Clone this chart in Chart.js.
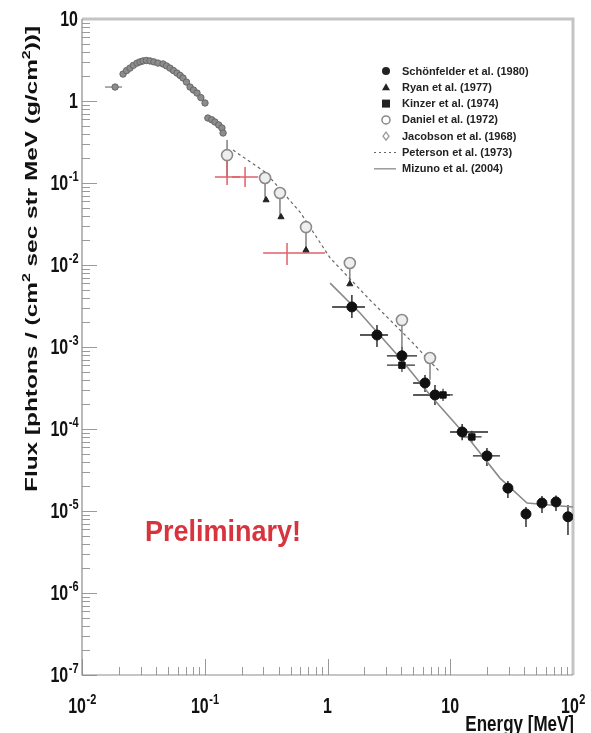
<!DOCTYPE html>
<html>
<head>
<meta charset="utf-8">
<script src="https://cdn.jsdelivr.net/npm/chart.js@4.4.0/dist/chart.umd.min.js"></script>
<style>
  html, body { margin: 0; padding: 0; background: #fff; }
  canvas { display: block; }
</style>
</head>
<body>
<canvas id="fluxChart" width="591" height="733"></canvas>
<script>
// energy in MeV, flux in photons / (cm2 sec str MeV (g/cm2))

// low energy curve
const jacobsonEnergy = [0.0186, 0.0216, 0.0231, 0.0246, 0.0262, 0.0281, 0.0297, 0.0314, 0.0335, 0.0358, 0.0385,
  0.0416, 0.0457, 0.0488, 0.0521, 0.0556, 0.0594, 0.0630, 0.0665, 0.0710, 0.0759, 0.0810, 0.0865, 0.0930,
  0.1005, 0.106, 0.114, 0.121, 0.130, 0.138, 0.141];
const jacobsonFlux = [1.48, 2.13, 2.35, 2.52, 2.72, 2.90, 3.00, 3.08, 3.12, 3.08, 3.00,
  2.90, 2.83, 2.68, 2.52, 2.35, 2.19, 2.05, 1.91, 1.70, 1.48, 1.36, 1.25, 1.10,
  0.946, 0.62, 0.59, 0.555, 0.51, 0.469, 0.407];
const jacobsonELow = [0.0154];
const jacobsonEHigh = [0.0212];

const danielEnergy = [0.152, 0.310, 0.410, 0.668, 1.52, 4.04, 6.84];
const danielFlux = [0.219, 0.115, 0.0755, 0.0290, 0.01057, 0.00213, 0.000735];
const danielFLow = [0.118, 0.062, 0.0385, 0.0152, 0.00586, 0.00092, 0.00040];
const danielFHigh = [0.334, 0.135, 0.089, 0.034, 0.0124, 0.0025, 0.00086];

const ryanEnergy = [0.316, 0.418, 0.668, 1.52];
const ryanFlux = [0.062, 0.0385, 0.0152, 0.00586];

const schonEnergy = [1.58, 2.53, 4.04, 6.23, 7.51, 12.5, 19.9, 29.5, 41.4, 55.9, 72.7, 91.0];
const schonFlux = [3.08e-3, 1.40e-3, 7.8e-4, 3.64e-4, 2.6e-4, 9.2e-5, 4.7e-5, 1.9e-5, 9.2e-6, 1.25e-5, 1.29e-5, 8.5e-6];
const schonELow = [1.09, 1.84, 3.05, 4.98, 4.98, 9.96, 15.3, 29.5, 41.4, 55.9, 72.7, 91.0];
const schonEHigh = [2.02, 3.11, 5.36, 6.84, 9.96, 20.3, 25.4, 29.5, 41.4, 55.9, 72.7, 91.0];
const schonFLow = [2.26e-3, 1.0e-3, 5.9e-4, 2.82e-4, 1.96e-4, 7.3e-5, 3.54e-5, 1.44e-5, 6.38e-6, 9.46e-6, 1.0e-5, 5.1e-6];
const schonFHigh = [4.3e-3, 1.85e-3, 1.01e-3, 4.56e-4, 3.44e-4, 1.15e-4, 5.86e-5, 2.32e-5, 1.12e-5, 1.52e-5, 1.55e-5, 1.18e-5];

const kinzerEnergy = [4.04, 8.73, 15.0];
const kinzerFlux = [6.0e-4, 2.6e-4, 8.0e-5];
const kinzerELow = [3.05, 7.0, 12.6];
const kinzerEHigh = [5.16, 10.5, 18.0];
const kinzerFLow = [4.95e-4, 2.2e-4, 6.8e-5];
const kinzerFHigh = [6.9e-4, 3.1e-4, 9.5e-5];

const prelimEnergy = [0.152, 0.213, 0.468];
const prelimFlux = [0.118, 0.118, 0.0140];
const prelimELow = [0.121, 0.167, 0.299];
const prelimEHigh = [0.194, 0.272, 0.955];
const prelimFLow = [0.0946, 0.0893, 0.0100];
const prelimFHigh = [0.252, 0.157, 0.0185];

const petersonEnergy = [0.170, 0.310, 0.597, 1.05, 2.22, 4.70, 8.25];
const petersonFlux = [0.252, 0.136, 0.0443, 0.0122, 0.00374, 0.00122, 0.000495];

const mizunoEnergy = [1.05, 1.84, 3.90, 6.84, 14.5, 25.4, 42.2, 100];
const mizunoFlux = [0.0060, 0.0026, 7.35e-4, 2.6e-4, 7.3e-5, 2.52e-5, 1.25e-5, 1.12e-5];

const legendLabels = ['Schönfelder et al. (1980)', 'Ryan et al. (1977)', 'Kinzer et al. (1974)',
  'Daniel et al. (1972)', 'Jacobson et al. (1968)', 'Peterson et al. (1973)', 'Mizuno et al. (2004)'];

const xTickValues = [0.01, 0.1, 1, 10, 100];
const xTickBase = ['10', '10', '1', '10', '10'];
const xTickExp = ['-2', '-1', '', '', '2'];
const yTickValues = [10, 1, 0.1, 1e-2, 1e-3, 1e-4, 1e-5, 1e-6, 1e-7];
const yTickBase = ['10', '1', '10', '10', '10', '10', '10', '10', '10'];
const yTickExp = ['', '', '-1', '-2', '-3', '-4', '-5', '-6', '-7'];

function pts(xs, ys) {
  return xs.map((x, i) => ({ x: x, y: ys[i] }));
}

const FONT = '"Liberation Sans", Arial, Helvetica, sans-serif';

// text with an optional superscript, stretched vertically like the original
function supText(ctx, base, exp, x, y, align, size, supSize, stretch) {
  ctx.font = 'bold ' + size + 'px ' + FONT;
  const wb = ctx.measureText(base).width;
  ctx.font = 'bold ' + supSize + 'px ' + FONT;
  const we = exp ? ctx.measureText(exp).width : 0;
  const total = wb + we;
  let x0 = x;
  if (align === 'center') x0 = x - total / 2;
  if (align === 'right') x0 = x - total;
  ctx.save();
  ctx.translate(x0, y);
  ctx.scale(1, stretch);
  ctx.textAlign = 'left';
  ctx.textBaseline = 'alphabetic';
  ctx.font = 'bold ' + size + 'px ' + FONT;
  ctx.fillText(base, 0, 0);
  if (exp) {
    ctx.font = 'bold ' + supSize + 'px ' + FONT;
    ctx.fillText(exp, wb + 0.5, -size * 0.42);
  }
  ctx.restore();
}

const errorBars = {
  id: 'errorBars',
  beforeDatasetsDraw(chart) {
    const ctx = chart.ctx;
    const xs = chart.scales.x, ys = chart.scales.y;
    chart.data.datasets.forEach(ds => {
      if (!ds.errColor) return;
      ctx.save();
      ctx.strokeStyle = ds.errColor;
      ctx.lineWidth = ds.errWidth || 1;
      ds.data.forEach((p, i) => {
        const px = xs.getPixelForValue(p.x), py = ys.getPixelForValue(p.y);
        ctx.beginPath();
        if (ds.xLo && ds.xLo[i] != null) {
          ctx.moveTo(xs.getPixelForValue(ds.xLo[i]), py);
          ctx.lineTo(xs.getPixelForValue(ds.xHi[i]), py);
        }
        if (ds.yLo && ds.yLo[i] != null) {
          ctx.moveTo(px, ys.getPixelForValue(ds.yLo[i]));
          ctx.lineTo(px, ys.getPixelForValue(ds.yHi[i]));
        }
        ctx.stroke();
      });
      ctx.restore();
    });
  }
};

const frameAndText = {
  id: 'frameAndText',
  beforeDatasetsDraw(chart) {
    const ctx = chart.ctx;
    const a = chart.chartArea;
    const xs = chart.scales.x, ys = chart.scales.y;
    ctx.save();
    // minor and major ticks, pointing inside
    ctx.strokeStyle = '#9a9a9a';
    ctx.lineWidth = 1;
    ctx.beginPath();
    for (let d = -2; d < 2; d++) {
      for (let m = 1; m <= 9; m++) {
        const v = m * Math.pow(10, d);
        const px = Math.round(xs.getPixelForValue(v)) + 0.5;
        const len = m === 1 ? 16 : 8;
        ctx.moveTo(px, a.bottom);
        ctx.lineTo(px, a.bottom - len);
      }
    }
    for (let d = -7; d < 1; d++) {
      for (let m = 1; m <= 9; m++) {
        const v = m * Math.pow(10, d);
        const py = Math.round(ys.getPixelForValue(v)) + 0.5;
        const len = m === 1 ? 15 : 8;
        ctx.moveTo(a.left, py);
        ctx.lineTo(a.left + len, py);
      }
    }
    ctx.stroke();
    // frame
    ctx.strokeStyle = '#c4c4c4';
    ctx.lineWidth = 3;
    ctx.beginPath();
    ctx.moveTo(a.left, a.top);
    ctx.lineTo(a.right, a.top);
    ctx.lineTo(a.right, a.bottom);
    ctx.stroke();
    ctx.strokeStyle = '#8c8c8c';
    ctx.lineWidth = 1.2;
    ctx.beginPath();
    ctx.moveTo(a.left, a.top);
    ctx.lineTo(a.left, a.bottom);
    ctx.lineTo(a.right, a.bottom);
    ctx.stroke();

    // tick labels
    ctx.fillStyle = '#111';
    xTickValues.forEach((v, i) => {
      supText(ctx, xTickBase[i], xTickExp[i], xs.getPixelForValue(v), 713, 'center', 16, 11, 1.35);
    });
    yTickValues.forEach((v, i) => {
      const py = ys.getPixelForValue(v);
      supText(ctx, yTickBase[i], yTickExp[i], 78, py + 7, 'right', 16, 11, 1.35);
    });

    // axis titles
    ctx.textAlign = 'left';
    ctx.textBaseline = 'alphabetic';
    supText(ctx, 'Energy [MeV]', '', 574, 731, 'right', 17, 11, 1.3);

    const parts = [['Flux [phtons / (cm', false], ['2', true], [' sec str MeV (g/cm', false], ['2', true], ['))]', false]];
    let total = 0;
    parts.forEach(p => {
      ctx.font = 'bold ' + (p[1] ? 11 : 17) + 'px ' + FONT;
      total += ctx.measureText(p[0]).width;
    });
    ctx.save();
    ctx.translate(37, 492);
    ctx.rotate(-Math.PI / 2);
    ctx.scale(466 / total, 1);
    let cx = 0;
    parts.forEach(p => {
      ctx.font = 'bold ' + (p[1] ? 11 : 17) + 'px ' + FONT;
      ctx.fillText(p[0], cx, p[1] ? -7 : 0);
      cx += ctx.measureText(p[0]).width;
    });
    ctx.restore();

    // preliminary
    ctx.fillStyle = '#d8343e';
    supText(ctx, 'Preliminary!', '', 145, 541, 'left', 27, 11, 1.12);
    ctx.restore();
  },
  afterDatasetsDraw(chart) {
    const ctx = chart.ctx;
    ctx.save();
    const sx = 386, tx = 402;
    legendLabels.forEach((label, i) => {
      const y = 71 + i * 16.3;
      ctx.fillStyle = '#222';
      ctx.strokeStyle = '#222';
      ctx.lineWidth = 1;
      ctx.beginPath();
      if (i === 0) {
        ctx.arc(sx, y, 4, 0, Math.PI * 2);
        ctx.fill();
      } else if (i === 1) {
        ctx.moveTo(sx, y - 4); ctx.lineTo(sx + 4, y + 3); ctx.lineTo(sx - 4, y + 3); ctx.closePath();
        ctx.fill();
      } else if (i === 2) {
        ctx.rect(sx - 4, y - 4, 8, 8);
        ctx.fill();
      } else if (i === 3) {
        ctx.strokeStyle = '#888';
        ctx.lineWidth = 1.5;
        ctx.arc(sx, y, 4, 0, Math.PI * 2);
        ctx.stroke();
      } else if (i === 4) {
        ctx.strokeStyle = '#999';
        ctx.lineWidth = 1.3;
        ctx.moveTo(sx, y - 4); ctx.lineTo(sx + 3, y); ctx.lineTo(sx, y + 4); ctx.lineTo(sx - 3, y); ctx.closePath();
        ctx.stroke();
      } else if (i === 5) {
        ctx.strokeStyle = '#666';
        ctx.setLineDash([2, 3]);
        ctx.moveTo(sx - 12, y); ctx.lineTo(sx + 10, y);
        ctx.stroke();
        ctx.setLineDash([]);
      } else {
        ctx.strokeStyle = '#999';
        ctx.lineWidth = 1.5;
        ctx.moveTo(sx - 12, y); ctx.lineTo(sx + 10, y);
        ctx.stroke();
      }
      ctx.fillStyle = '#222';
      ctx.font = 'bold 11px ' + FONT;
      ctx.textAlign = 'left';
      ctx.textBaseline = 'middle';
      ctx.fillText(label, tx, y + 0.5);
    });
    ctx.restore();
  }
};

const ctx = document.getElementById('fluxChart').getContext('2d');
new Chart(ctx, {
  type: 'scatter',
  data: {
    datasets: [
      {
        label: 'Schonfelder',
        data: pts(schonEnergy, schonFlux),
        pointStyle: 'circle', pointRadius: 5,
        backgroundColor: '#111', borderColor: '#111',
        xLo: schonELow, xHi: schonEHigh, yLo: schonFLow, yHi: schonFHigh,
        errColor: '#222', errWidth: 1.4
      },
      {
        label: 'Kinzer',
        data: pts(kinzerEnergy, kinzerFlux),
        pointStyle: 'rect', pointRadius: 4.5,
        backgroundColor: '#111', borderColor: '#111',
        xLo: kinzerELow, xHi: kinzerEHigh, yLo: kinzerFLow, yHi: kinzerFHigh,
        errColor: '#333', errWidth: 1.2
      },
      {
        label: 'Ryan',
        data: pts(ryanEnergy, ryanFlux),
        pointStyle: 'triangle', pointRadius: 3.5,
        backgroundColor: '#222', borderColor: '#222'
      },
      {
        label: 'Daniel',
        data: pts(danielEnergy, danielFlux),
        pointStyle: 'circle', pointRadius: 5.5, borderWidth: 1.6,
        backgroundColor: '#eeeeee', borderColor: '#8a8a8a',
        yLo: danielFLow, yHi: danielFHigh,
        errColor: '#777', errWidth: 1.4
      },
      {
        label: 'Jacobson',
        data: pts(jacobsonEnergy, jacobsonFlux),
        pointStyle: 'circle', pointRadius: 3.2, borderWidth: 1,
        backgroundColor: '#8c8c8c', borderColor: '#666',
        xLo: jacobsonELow, xHi: jacobsonEHigh,
        errColor: '#777', errWidth: 1.2
      },
      {
        label: 'Preliminary',
        data: pts(prelimEnergy, prelimFlux),
        pointRadius: 0,
        xLo: prelimELow, xHi: prelimEHigh, yLo: prelimFLow, yHi: prelimFHigh,
        errColor: '#e0606a', errWidth: 1.5
      },
      {
        label: 'Peterson',
        data: pts(petersonEnergy, petersonFlux),
        showLine: true, pointRadius: 0,
        borderColor: '#666', borderWidth: 1.2, borderDash: [3, 3]
      },
      {
        label: 'Mizuno',
        data: pts(mizunoEnergy, mizunoFlux),
        showLine: true, pointRadius: 0,
        borderColor: '#8a8a8a', borderWidth: 1.6
      }
    ]
  },
  options: {
    responsive: false,
    animation: false,
    layout: { padding: { left: 82, right: 18, top: 19, bottom: 58 } },
    plugins: { legend: { display: false }, tooltip: { enabled: false } },
    scales: {
      x: { type: 'logarithmic', min: 0.01, max: 100, display: false },
      y: { type: 'logarithmic', min: 1e-7, max: 10, display: false }
    }
  },
  plugins: [frameAndText, errorBars]
});
</script>
</body>
</html>
